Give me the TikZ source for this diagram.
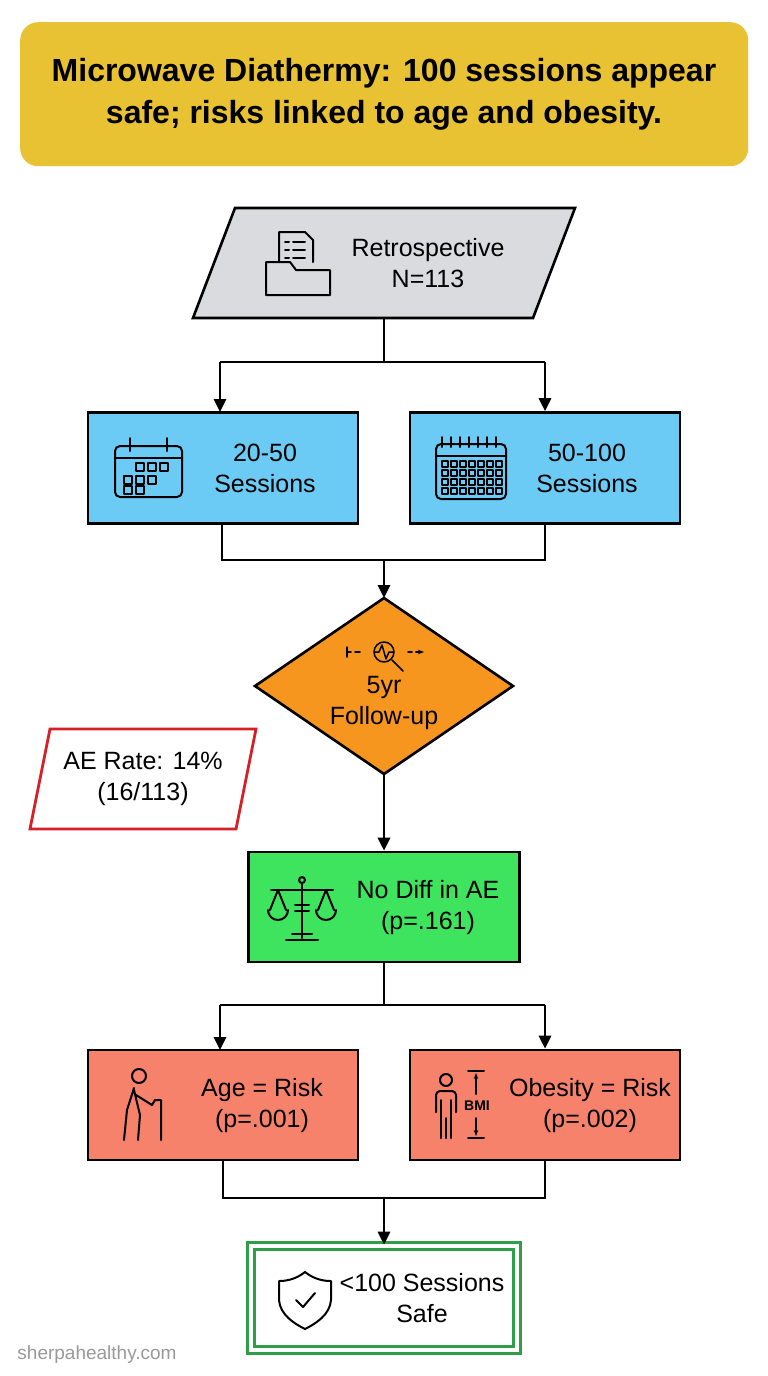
\documentclass[tikz,border=0pt]{standalone}
\usepackage{fontspec}
\setmainfont{Liberation Sans}
\usetikzlibrary{arrows.meta}
\definecolor{ttl}{HTML}{E8C232}
\definecolor{gry}{HTML}{D9DBDE}
\definecolor{blu}{HTML}{6CCBF5}
\definecolor{org}{HTML}{F7961F}
\definecolor{grn}{HTML}{3EE35E}
\definecolor{rd}{HTML}{F7826B}
\definecolor{dgrn}{HTML}{2E9E48}
\definecolor{ared}{HTML}{D42026}
\begin{document}
\begin{tikzpicture}[x=1pt,y=-1pt,
  box/.style={draw=black,line width=2.6pt},
  lbl/.style={font=\fontsize{25}{31}\selectfont,align=center},
  con/.style={line width=2.8pt},
  arr/.style={con,-{Triangle[length=13pt,width=12pt]}},
  ic/.style={line width=2pt,line cap=round,line join=round}]
\useasboundingbox (0,0) rectangle (768,1376);
% title
\node[fill=ttl,rounded corners=18pt,minimum width=728pt,minimum height=144pt,anchor=north west] (title) at (20,22) {};
\node[font=\bfseries\fontsize{32}{42}\selectfont,align=center] (tt) at (384,94) {Microwave Diathermy: 100 sessions appear\\safe; risks linked to age and obesity.};
% input parallelogram
\draw[box,fill=gry] (235,208) -- (575,208) -- (533,318) -- (193,318) -- cycle;
\coordinate (inb) at (384,318);
\node[lbl] (intext) at (428,263) {Retrospective\\N=113};
\begin{scope}[ic]
\draw (279,232) -- (279,262) (279,232) -- (305,232) -- (313,240) -- (313,262);
\draw (285,242)--(289,242) (293,242)--(305,242) (285,250)--(289,250) (293,250)--(305,250) (285,258)--(289,258) (293,258)--(305,258);
\draw (266,262) -- (266,295) -- (330,295) -- (330,270) -- (296,270) -- (290,262) -- cycle;
\end{scope}
% blue boxes
\node[box,fill=blu,minimum width=270pt,minimum height=111pt] (b1) at (223,468) {};
\node[box,fill=blu,minimum width=270pt,minimum height=111pt] (b2) at (545,468) {};
\node[lbl] at (265,468) {20-50\\Sessions};
\node[lbl] at (587,468) {50-100\\Sessions};
\begin{scope}[ic]
\draw[rounded corners=5pt] (115,446) rectangle (182,497); \draw (115,458)--(182,458);
\draw (130,438)--(130,451) (167,438)--(167,451);
\foreach \x/\y in {140/467,152/467,164/467,128/480,140/480,152/480,128/490,140/490}{\draw (\x-4,\y-4) rectangle (\x+4,\y+4);}
\draw[rounded corners=5pt] (436,444) rectangle (506,499); \draw (436,456)--(506,456);
\foreach \x in {442,451,...,501}{\draw (\x,437)--(\x,447);}
\foreach \x in {445,454,...,499}{\foreach \y in {464,473,482,491}{\draw (\x-3,\y-3) rectangle (\x+3,\y+3);}}
\end{scope}
% diamond
\draw[box,fill=org] (384,598) -- (513,686) -- (384,774) -- (255,686) -- cycle;
\coordinate (dt) at (384,598); \coordinate (db) at (384,774);
\node[lbl] (dtext) at (384,703) {5yr\\Follow-up};
\begin{scope}[line width=1.5pt,line cap=round,line join=round]
\draw (384,652) circle (10pt); \draw (392,660) -- (403,671);
\draw (347,652)--(351,652) (355,652)--(360,652) (408,652)--(412,652) (416,652)--(419,652);
\draw (375,652)--(379,652)--(382,645)--(386,659)--(389,652)--(393,652);
\draw (347,647)--(347,657); \draw[-{Stealth[length=6pt]}] (416,652)--(424,652);
\end{scope}
% AE rate
\draw[line width=2.8pt,draw=ared,fill=white] (50,729) -- (256,729) -- (236,829) -- (30,829) -- cycle;
\node[lbl] (ae) at (143,779) {AE Rate: 14\%\\(16/113)};
% green box
\node[box,fill=grn,minimum width=271pt,minimum height=110pt] (g) at (384,907) {};
\node[lbl] at (428,908) {No Diff in AE\\(p=.161)};
\begin{scope}[ic]
\draw (302,884)--(302,938) (286,940)--(318,940) (292,934)--(312,934);
\draw (271,890)--(333,890); \draw (302,880) circle (3pt);
\draw (278,890)--(270,910) (278,890)--(286,910) (268,910) arc (180:360:10pt);
\draw (326,890)--(318,910) (326,890)--(334,910) (316,910) arc (180:360:10pt);
\draw (295,905)--(309,905) (295,911)--(309,911);
\end{scope}
% red boxes
\node[box,fill=rd,minimum width=270pt,minimum height=110pt] (r1) at (223,1105) {};
\node[box,fill=rd,minimum width=270pt,minimum height=110pt] (r2) at (545,1105) {};
\node[lbl] at (262,1106) {Age = Risk\\(p=.001)};
\node[lbl] at (590,1106) {Obesity = Risk\\(p=.002)};
\begin{scope}[ic]
\draw (139,1076) circle (7pt);
\draw (134,1088) -- (127,1110) -- (124,1140) (134,1090)--(140,1115)--(138,1140) (136,1095)--(152,1105)--(155,1100) (155,1100)--(161,1100)--(161,1140);
\draw (446,1080) circle (6pt);
\draw[rounded corners=4pt] (436,1112) -- (436,1091) -- (456,1091) -- (456,1112);
\draw (441,1100)--(441,1138) (451,1100)--(451,1138) (446,1118)--(446,1138);
\draw (468,1071)--(484,1071) (468,1138)--(484,1138);
\draw[-{Stealth[length=6pt]}] (476,1094)--(476,1073); \draw[-{Stealth[length=6pt]}] (476,1118)--(476,1136);
\node[font=\bfseries\fontsize{14}{14}\selectfont] at (477,1106) {BMI};
\end{scope}
% final
\node[draw=dgrn,line width=2.6pt,double=white,double distance=4pt,fill=white,minimum width=266pt,minimum height=104pt] (f) at (384,1298) {};
\node[lbl] at (422,1298) {<100 Sessions\\Safe};
\begin{scope}[ic]
\draw (305,1272) .. controls (295,1280) and (285,1281) .. (279,1281) -- (279,1300) .. controls (280,1315) and (295,1324) .. (305,1329) .. controls (315,1324) and (330,1315) .. (331,1300) -- (331,1281) .. controls (325,1281) and (315,1280) .. (305,1272) -- cycle;
\draw (296,1300)--(303,1307)--(315,1293);
\end{scope}
\node[text=gray!80,font=\fontsize{19}{19}\selectfont] (wm) at (97,1355) {sherpahealthy.com};
% connectors
\draw[con] (inb) -- (384,362);
\draw[con] (220,362) -- (545,362);
\draw[arr] (220,362) -- (220,412);
\draw[arr] (545,362) -- (b2.north);
\draw[con] (222,523) -- (222,560) -- (545,560) -- (545,523);
\draw[arr] (384,560) -- (dt);
\draw[arr] (db) -- (g.north);
\draw[con] (g.south) -- (384,1005);
\draw[con] (220,1005) -- (545,1005);
\draw[arr] (220,1005) -- (220,1050);
\draw[arr] (545,1005) -- (r2.north);
\draw[con] (r1.south) -- (223,1198) -- (545,1198) -- (r2.south);
\draw[arr] (384,1198) -- (f.north);
\end{tikzpicture}
\end{document}
